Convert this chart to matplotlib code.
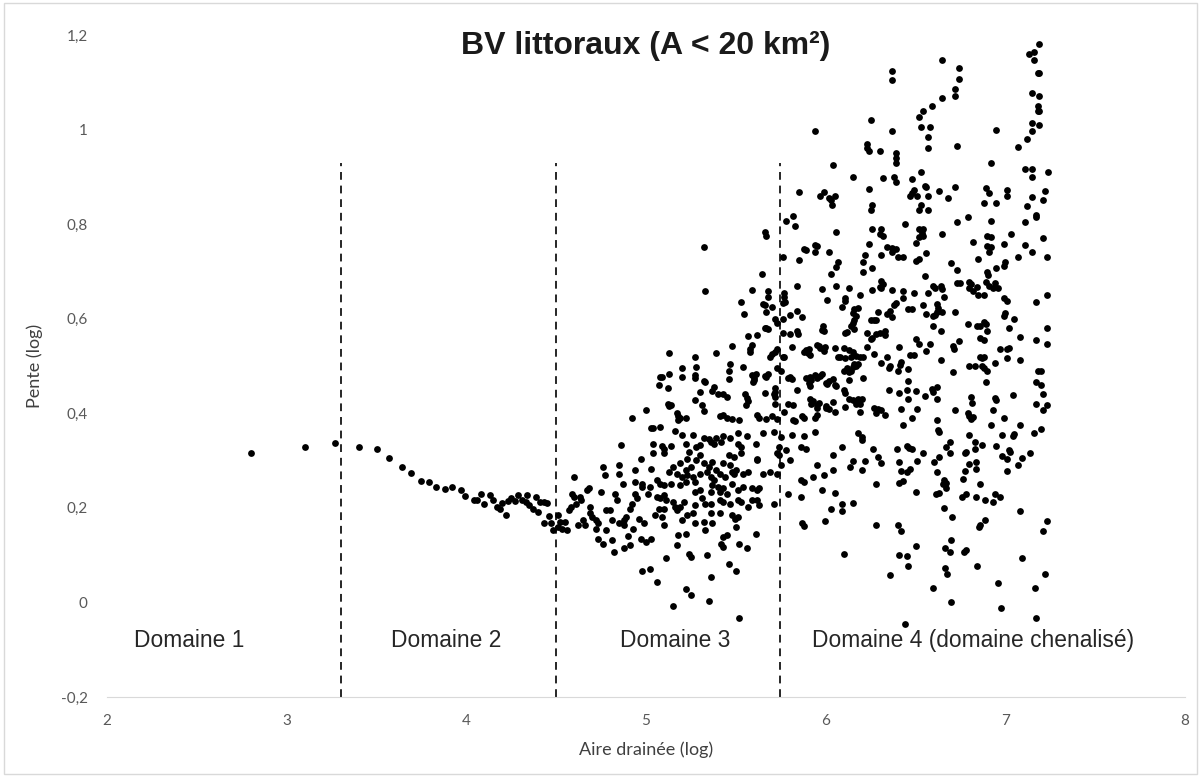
"""
BV littoraux : pente vs aire drainée (log-log), 4 domaines
"""

import matplotlib
matplotlib.use('Agg')
import matplotlib.pyplot as plt
from matplotlib.patches import Rectangle

# =========================================================================
# Data, (aire log, pente log)
# =========================================================================
pts_domaine1 = [(2.80, 0.315), (3.10, 0.328), (3.27, 0.337)]

pts_domaine2 = [
    (3.40, 0.328), (3.50, 0.324), (3.57, 0.305), (3.64, 0.286), (3.69, 0.273), (3.75, 0.256),
    (3.79, 0.254), (3.83, 0.243), (3.88, 0.24), (3.92, 0.243), (3.97, 0.237), (3.99, 0.224),
    (4.04, 0.216), (4.06, 0.217), (4.08, 0.23), (4.10, 0.208), (4.13, 0.227), (4.15, 0.216),
    (4.17, 0.202), (4.19, 0.197), (4.20, 0.21), (4.22, 0.184), (4.23, 0.214), (4.25, 0.22),
    (4.27, 0.214), (4.29, 0.227), (4.31, 0.216), (4.33, 0.213), (4.34, 0.227), (4.35, 0.205),
    (4.37, 0.198), (4.39, 0.223), (4.40, 0.191), (4.41, 0.213), (4.43, 0.213), (4.45, 0.211),
    (4.43, 0.167), (4.46, 0.182), (4.47, 0.167), (4.48, 0.153),
]

pts_domaine3_bas = [
    (4.51, 0.184), (4.51, 0.16), (4.52, 0.17), (4.53, 0.156), (4.55, 0.17), (4.56, 0.153),
    (4.57, 0.195), (4.58, 0.202), (4.59, 0.23), (4.60, 0.265), (4.60, 0.223), (4.61, 0.209),
    (4.62, 0.163), (4.63, 0.223), (4.64, 0.216), (4.65, 0.174), (4.66, 0.163), (4.67, 0.237),
    (4.68, 0.241), (4.69, 0.202), (4.69, 0.188), (4.70, 0.181), (4.72, 0.174), (4.72, 0.156),
    (4.73, 0.134), (4.73, 0.168), (4.75, 0.234), (4.76, 0.124), (4.76, 0.287), (4.77, 0.269),
    (4.78, 0.153), (4.78, 0.195), (4.80, 0.195), (4.81, 0.174), (4.81, 0.131), (4.82, 0.107),
    (4.83, 0.23), (4.84, 0.216), (4.85, 0.167), (4.85, 0.29), (4.85, 0.272), (4.86, 0.332),
    (4.87, 0.251), (4.88, 0.163), (4.88, 0.114), (4.88, 0.174), (4.89, 0.181), (4.90, 0.14),
    (4.91, 0.121), (4.91, 0.198), (4.92, 0.209), (4.93, 0.156), (4.94, 0.23), (4.94, 0.281),
    (4.94, 0.255), (4.95, 0.22), (4.96, 0.177), (4.97, 0.135), (4.97, 0.304), (4.98, 0.244),
    (4.98, 0.251), (4.99, 0.167), (5.00, 0.128), (5.01, 0.23), (5.02, 0.244), (5.03, 0.283),
    (5.03, 0.135), (5.04, 0.336), (5.04, 0.315), (5.05, 0.184), (5.06, 0.223), (5.06, 0.258),
    (5.07, 0.198), (4.98, 0.066), (5.02, 0.071), (5.06, 0.043),
    (5.07, 0.46), (5.08, 0.476), (5.00, 0.406), (4.92, 0.39), (5.03, 0.368), (5.04, 0.368),
]

pts_domaine3_milieu = [
    (5.09, 0.33), (5.10, 0.315), (5.10, 0.325), (5.14, 0.33), (5.22, 0.336), (5.24, 0.318),
    (5.28, 0.329), (5.30, 0.332), (5.36, 0.34), (5.38, 0.336), (5.42, 0.34), (5.51, 0.336),
    (5.53, 0.329), (5.61, 0.336), (5.23, 0.304), (5.19, 0.294), (5.15, 0.287), (5.13, 0.276),
    (5.17, 0.272), (5.22, 0.28), (5.25, 0.287), (5.28, 0.301), (5.30, 0.311), (5.32, 0.294),
    (5.35, 0.287), (5.37, 0.297), (5.39, 0.28), (5.43, 0.294), (5.46, 0.311), (5.49, 0.308),
    (5.53, 0.315), (5.47, 0.29), (5.49, 0.272), (5.50, 0.28), (5.54, 0.272), (5.57, 0.276),
    (5.62, 0.301), (5.62, 0.304), (5.65, 0.272), (5.69, 0.276), (5.73, 0.315), (5.74, 0.329),
    (5.74, 0.311), (5.75, 0.29), (5.73, 0.272), (5.20, 0.265), (5.22, 0.255), (5.23, 0.269),
    (5.26, 0.265), (5.27, 0.255), (5.30, 0.272), (5.34, 0.276), (5.36, 0.265), (5.38, 0.258),
    (5.41, 0.272), (5.44, 0.265), (5.48, 0.276), (5.10, 0.248), (5.08, 0.251), (5.14, 0.251),
    (5.19, 0.248), (5.27, 0.234), (5.30, 0.237), (5.31, 0.22), (5.36, 0.234), (5.37, 0.248),
    (5.40, 0.244), (5.41, 0.234), (5.43, 0.241), (5.45, 0.23), (5.48, 0.251), (5.51, 0.237),
    (5.54, 0.244), (5.59, 0.241), (5.62, 0.237), (5.63, 0.241), (5.08, 0.22), (5.10, 0.227),
    (5.11, 0.216), (5.15, 0.213), (5.16, 0.202), (5.17, 0.195), (5.21, 0.213), (5.27, 0.205),
    (5.33, 0.209), (5.36, 0.209), (5.41, 0.216), (5.43, 0.213), (5.47, 0.209), (5.51, 0.216),
    (5.53, 0.213), (5.57, 0.202), (5.59, 0.216), (5.62, 0.216), (5.63, 0.205), (5.71, 0.209),
    (5.10, 0.198), (5.19, 0.202), (5.23, 0.184), (5.26, 0.188), (5.36, 0.188), (5.41, 0.188),
    (5.48, 0.184), (5.495, 0.177), (5.51, 0.181), (5.09, 0.181), (5.10, 0.163), (5.20, 0.174),
    (5.27, 0.167), (5.32, 0.17), (5.37, 0.167), (5.33, 0.153), (5.50, 0.16), (5.18, 0.142),
    (5.22, 0.145), (5.43, 0.138), (5.45, 0.142), (5.42, 0.124), (5.43, 0.117), (5.17, 0.121),
    (5.24, 0.103), (5.25, 0.096), (5.34, 0.1), (5.61, 0.144), (5.52, 0.123), (5.56, 0.114),
    (5.11, 0.093), (5.22, 0.029), (5.15, -0.008), (5.25, 0.015), (5.35, 0.004), (5.36, 0.054),
    (5.52, -0.033), (5.50, 0.066), (5.46, 0.082),
]

pts_domaine3_haut = [
    (5.645, 0.694), (5.33, 0.658), (5.59, 0.66), (5.68, 0.658), (5.68, 0.645), (5.53, 0.635),
    (5.545, 0.61), (5.65, 0.632), (5.66, 0.628), (5.67, 0.614), (5.70, 0.624), (5.72, 0.60),
    (5.73, 0.59), (5.66, 0.58), (5.67, 0.58), (5.68, 0.578), (5.57, 0.563), (5.62, 0.565),
    (5.48, 0.542), (5.59, 0.544), (5.13, 0.527), (5.39, 0.527), (5.58, 0.53), (5.58, 0.535),
    (5.69, 0.52), (5.70, 0.525), (5.72, 0.53), (5.73, 0.535), (5.27, 0.52), (5.28, 0.498),
    (5.47, 0.505), (5.54, 0.498), (5.20, 0.495), (5.13, 0.482), (5.09, 0.476), (5.20, 0.476),
    (5.27, 0.48), (5.27, 0.475), (5.32, 0.468), (5.33, 0.466), (5.46, 0.489), (5.46, 0.472),
    (5.59, 0.48), (5.60, 0.475), (5.61, 0.482), (5.60, 0.47), (5.595, 0.466), (5.66, 0.478),
    (5.67, 0.476), (5.68, 0.482), (5.73, 0.495), (5.12, 0.453), (5.30, 0.444), (5.37, 0.447),
    (5.40, 0.44), (5.43, 0.441), (5.45, 0.434), (5.38, 0.455), (5.55, 0.44), (5.56, 0.433),
    (5.57, 0.426), (5.555, 0.417), (5.12, 0.42), (5.13, 0.415), (5.14, 0.418), (5.31, 0.417),
    (5.27, 0.427), (5.72, 0.453), (5.71, 0.44), (5.72, 0.435), (5.72, 0.445), (5.66, 0.442),
    (5.72, 0.419), (5.17, 0.40), (5.18, 0.395), (5.19, 0.39), (5.18, 0.385), (5.22, 0.39),
    (5.32, 0.404), (5.41, 0.394), (5.43, 0.397), (5.45, 0.39), (5.48, 0.387), (5.52, 0.385),
    (5.62, 0.396), (5.63, 0.39), (5.67, 0.388), (5.70, 0.395), (5.73, 0.387), (5.08, 0.37),
    (5.16, 0.362), (5.20, 0.353), (5.26, 0.355), (5.32, 0.348), (5.35, 0.346), (5.39, 0.348),
    (5.43, 0.352), (5.47, 0.348), (5.51, 0.358), (5.56, 0.351), (5.65, 0.358), (5.71, 0.36),
    (5.32, 0.751), (5.66, 0.783), (5.67, 0.775),
]

pts_domaine4_bas = [
    (5.76, 0.57), (5.75, 0.49), (5.76, 0.518), (5.77, 0.52), (5.80, 0.567), (5.84, 0.575),
    (5.845, 0.568), (5.80, 0.607), (5.84, 0.616), (5.87, 0.603), (5.76, 0.60), (5.77, 0.655),
    (5.77, 0.645), (5.775, 0.635), (5.765, 0.633), (5.84, 0.669), (5.76, 0.73), (5.85, 0.724),
    (5.89, 0.745), (5.94, 0.74), (6.02, 0.74), (6.07, 0.72), (6.06, 0.71), (6.03, 0.694),
    (5.98, 0.662), (6.01, 0.64), (6.06, 0.67), (6.11, 0.643), (6.11, 0.637), (6.09, 0.624),
    (5.98, 0.577), (5.99, 0.575), (5.985, 0.585), (6.11, 0.57), (6.12, 0.572), (5.81, 0.54),
    (5.88, 0.53), (5.89, 0.533), (5.90, 0.528), (5.91, 0.524), (5.905, 0.536), (5.95, 0.545),
    (5.96, 0.543), (5.97, 0.538), (5.99, 0.532), (5.995, 0.54), (6.05, 0.537), (6.10, 0.537),
    (6.07, 0.52), (6.08, 0.518), (6.11, 0.516), (5.79, 0.474), (5.80, 0.477), (5.81, 0.472),
    (5.89, 0.474), (5.91, 0.476), (5.92, 0.47), (5.905, 0.463), (5.91, 0.458), (5.94, 0.48),
    (5.95, 0.474), (5.97, 0.478), (5.98, 0.482), (5.84, 0.45), (6.00, 0.465), (6.01, 0.462),
    (6.02, 0.468), (6.04, 0.473), (6.05, 0.459), (6.06, 0.457), (6.10, 0.49), (6.12, 0.495),
    (6.13, 0.487), (6.14, 0.49), (6.10, 0.45), (6.11, 0.443), (5.79, 0.419), (5.82, 0.417),
    (5.91, 0.43), (5.93, 0.425), (5.92, 0.42), (5.95, 0.417), (5.95, 0.412), (5.96, 0.421),
    (6.00, 0.415), (6.00, 0.412), (6.02, 0.41), (6.04, 0.423), (6.05, 0.402), (6.11, 0.413),
    (5.77, 0.402), (5.82, 0.385), (5.83, 0.383), (5.87, 0.394), (5.88, 0.389), (5.94, 0.39),
    (5.95, 0.396), (5.75, 0.35), (5.81, 0.353), (5.88, 0.351), (5.94, 0.36),
    (5.95, 0.29), (6.04, 0.311), (6.09, 0.329), (6.04, 0.281), (5.93, 0.265), (5.99, 0.269),
    (5.86, 0.258), (5.88, 0.255), (5.98, 0.237), (6.05, 0.232), (5.79, 0.23), (5.86, 0.223),
    (6.03, 0.198), (6.09, 0.209), (6.09, 0.193), (5.87, 0.167), (5.88, 0.161), (5.995, 0.172),
    (6.10, 0.103), (5.78, 0.322), (5.80, 0.301), (5.86, 0.329), (5.89, 0.325),
]

pts_domaine4_haut = [
    (5.94, 0.997), (6.04, 0.925), (5.85, 0.868), (5.97, 0.86), (5.99, 0.868), (6.02, 0.855),
    (6.03, 0.85), (6.05, 0.86), (6.035, 0.84), (5.82, 0.817), (5.78, 0.806), (5.83, 0.795),
    (6.06, 0.783), (5.94, 0.755), (5.95, 0.753), (5.88, 0.747),
    (6.65, 1.147), (6.74, 1.13), (6.37, 1.124), (6.74, 1.107), (6.37, 1.105), (6.72, 1.085),
    (6.72, 1.07), (6.65, 1.067), (6.59, 1.05), (6.54, 1.04), (6.52, 1.027), (6.25, 1.02),
    (6.37, 0.997), (6.53, 1.005), (6.58, 1.005), (6.57, 0.984), (6.57, 0.96), (6.73, 0.965),
    (6.23, 0.97), (6.23, 0.96), (6.24, 0.955), (6.30, 0.955), (6.39, 0.95), (6.39, 0.94),
    (6.39, 0.93), (6.15, 0.90), (6.32, 0.897), (6.38, 0.90), (6.39, 0.89), (6.53, 0.91),
    (6.48, 0.895), (6.24, 0.874), (6.55, 0.88), (6.56, 0.878), (6.49, 0.872), (6.48, 0.865),
    (6.47, 0.86), (6.72, 0.878), (6.63, 0.87), (6.51, 0.86), (6.57, 0.86), (6.68, 0.855),
    (6.26, 0.84), (6.25, 0.83), (6.53, 0.84), (6.52, 0.83), (6.57, 0.83), (6.79, 0.815),
    (6.44, 0.80), (6.73, 0.805), (6.26, 0.79), (6.31, 0.79), (6.30, 0.78), (6.32, 0.775),
    (6.52, 0.79), (6.54, 0.79), (6.535, 0.782), (6.54, 0.775), (6.52, 0.772), (6.65, 0.78),
    (6.24, 0.757), (6.34, 0.752), (6.37, 0.75), (6.39, 0.748), (6.50, 0.76), (6.82, 0.762),
    (6.90, 0.753), (6.92, 0.752), (6.99, 0.757), (7.11, 0.755), (6.90, 0.775), (6.92, 0.772),
    (6.92, 0.806), (7.03, 0.78), (7.11, 0.804), (6.88, 0.845), (6.95, 0.845), (7.12, 0.838),
    (6.89, 0.876), (6.91, 0.866), (7.01, 0.872), (7.01, 0.86), (7.15, 0.857), (7.17, 0.82),
    (7.17, 0.815), (6.92, 0.93), (7.11, 0.917), (7.15, 0.917), (7.15, 0.90), (7.07, 0.963),
    (7.12, 0.98), (7.15, 0.997), (7.15, 1.013), (6.95, 1.0), (7.18, 1.04), (7.18, 1.05),
    (7.15, 1.077), (7.18, 1.12), (7.16, 1.147), (7.13, 1.16), (7.16, 1.165), (7.19, 1.18),
]

pts_domaine4_milieu = [
    (6.22, 0.735), (6.21, 0.72), (6.31, 0.735), (6.37, 0.74), (6.40, 0.73), (6.43, 0.73),
    (6.50, 0.722), (6.52, 0.726), (6.56, 0.738), (6.70, 0.717), (6.85, 0.726), (6.91, 0.74),
    (7.00, 0.72), (6.99, 0.712), (7.07, 0.73), (7.15, 0.74), (6.21, 0.698), (6.26, 0.707),
    (6.73, 0.703), (6.90, 0.698), (6.905, 0.692), (6.95, 0.707), (6.31, 0.68), (6.32, 0.673),
    (6.30, 0.668), (6.31, 0.665), (6.55, 0.69), (6.60, 0.67), (6.61, 0.665), (6.64, 0.67),
    (6.65, 0.662), (6.73, 0.675), (6.745, 0.676), (6.80, 0.678), (6.81, 0.673), (6.80, 0.664),
    (6.82, 0.658), (6.84, 0.668), (6.85, 0.65), (6.88, 0.65), (6.89, 0.678), (6.91, 0.67),
    (6.94, 0.675), (6.93, 0.665), (6.96, 0.664), (6.13, 0.665), (6.19, 0.65), (6.26, 0.66),
    (6.37, 0.66), (6.43, 0.658), (6.43, 0.643), (6.49, 0.654), (6.57, 0.654), (6.66, 0.645),
    (6.995, 0.643), (7.01, 0.638), (7.17, 0.635), (6.39, 0.633), (6.38, 0.628), (6.46, 0.62),
    (6.48, 0.621), (6.54, 0.628), (6.62, 0.63), (6.625, 0.623), (6.62, 0.614), (6.60, 0.605),
    (6.61, 0.607), (6.56, 0.61), (6.65, 0.614), (6.72, 0.614), (6.16, 0.62), (6.15, 0.612),
    (6.18, 0.622), (6.17, 0.605), (6.16, 0.597), (6.15, 0.59), (6.14, 0.585), (6.16, 0.578),
    (6.29, 0.614), (6.25, 0.597), (6.27, 0.597), (6.28, 0.598), (6.34, 0.61), (6.36, 0.617),
    (6.37, 0.603), (7.00, 0.611), (6.99, 0.605), (7.05, 0.60), (6.79, 0.588), (6.84, 0.585),
    (6.86, 0.585), (6.88, 0.593), (6.89, 0.588), (6.90, 0.573), (7.02, 0.58), (6.60, 0.584),
    (6.64, 0.573), (6.23, 0.57), (6.28, 0.568), (6.30, 0.569), (6.26, 0.56), (6.25, 0.556),
    (6.33, 0.573), (6.33, 0.565), (6.50, 0.557), (6.52, 0.546), (6.58, 0.546), (6.74, 0.552),
    (6.71, 0.542), (6.715, 0.535), (6.86, 0.56), (6.88, 0.555), (7.08, 0.561), (7.17, 0.555),
    (6.13, 0.533), (6.15, 0.53), (6.17, 0.522), (6.14, 0.52), (6.19, 0.52), (6.21, 0.52),
    (6.18, 0.505), (6.16, 0.505), (6.15, 0.497), (6.17, 0.499), (6.23, 0.54), (6.27, 0.525),
    (6.34, 0.52), (6.41, 0.54), (6.47, 0.523), (6.49, 0.523), (6.42, 0.508), (6.415, 0.503),
    (6.56, 0.531), (6.36, 0.50), (6.355, 0.495), (6.31, 0.506), (6.40, 0.49), (6.46, 0.493),
    (6.64, 0.512), (6.71, 0.487), (6.80, 0.50), (6.83, 0.50), (6.86, 0.52), (6.87, 0.517),
    (6.88, 0.518), (6.87, 0.499), (6.88, 0.496), (6.90, 0.49), (6.94, 0.506), (6.97, 0.535),
    (7.01, 0.535), (7.02, 0.537), (7.01, 0.516), (7.08, 0.512), (7.18, 0.49), (6.21, 0.474),
    (6.13, 0.47), (6.46, 0.468), (6.89, 0.466), (7.17, 0.466), (6.35, 0.45), (6.41, 0.442),
    (6.45, 0.45), (6.50, 0.447), (6.59, 0.452), (6.60, 0.444), (6.62, 0.455), (6.55, 0.436),
    (6.46, 0.43), (6.62, 0.43), (6.13, 0.43), (6.15, 0.428), (6.18, 0.43), (6.20, 0.43),
    (6.17, 0.42), (6.19, 0.419), (6.81, 0.435), (6.815, 0.422), (6.94, 0.433), (6.95, 0.428),
    (7.04, 0.438), (7.17, 0.42), (6.27, 0.412), (6.29, 0.41), (6.31, 0.406), (6.33, 0.397),
    (6.28, 0.4), (6.19, 0.402), (6.42, 0.41), (6.51, 0.408), (6.72, 0.406), (6.79, 0.4),
    (6.80, 0.395), (6.81, 0.388), (6.82, 0.393), (6.93, 0.406), (6.99, 0.39), (7.08, 0.375),
    (6.43, 0.375), (6.48, 0.39), (6.62, 0.385), (6.625, 0.365), (6.63, 0.36), (6.18, 0.358),
    (6.20, 0.35), (6.80, 0.353), (6.98, 0.355), (7.04, 0.352), (7.05, 0.357), (7.16, 0.358),
    (6.92, 0.375),
]

pts_domaine4_bas2 = [
    (6.20, 0.343), (6.265, 0.325), (6.15, 0.30), (6.135, 0.287), (6.22, 0.30), (6.20, 0.281),
    (6.31, 0.294), (6.29, 0.308), (6.395, 0.325), (6.45, 0.33), (6.465, 0.327), (6.48, 0.325),
    (6.54, 0.316), (6.41, 0.296), (6.42, 0.278), (6.45, 0.275), (6.47, 0.282), (6.51, 0.30),
    (6.41, 0.253), (6.43, 0.257), (6.28, 0.251), (6.50, 0.234), (6.605, 0.297), (6.63, 0.308),
    (6.62, 0.275), (6.67, 0.329), (6.69, 0.34), (6.69, 0.315), (6.66, 0.258), (6.67, 0.253),
    (6.655, 0.251), (6.67, 0.241), (6.615, 0.229), (6.63, 0.232), (6.775, 0.315), (6.78, 0.318),
    (6.765, 0.262), (6.775, 0.278), (6.80, 0.292), (6.835, 0.297), (6.835, 0.283), (6.76, 0.223),
    (6.78, 0.229), (6.83, 0.34), (6.83, 0.325), (6.87, 0.332), (6.86, 0.251), (6.835, 0.222),
    (6.885, 0.216), (6.93, 0.213), (6.94, 0.23), (6.97, 0.222), (6.95, 0.33), (6.98, 0.309),
    (7.01, 0.304), (7.025, 0.318), (7.02, 0.323), (7.01, 0.277), (7.07, 0.29), (7.09, 0.306),
    (7.135, 0.316), (6.15, 0.211), (6.28, 0.164), (6.40, 0.163), (6.42, 0.15), (6.50, 0.119),
    (6.41, 0.10), (6.45, 0.098), (6.46, 0.078), (6.36, 0.057), (6.44, -0.045), (6.595, 0.031),
    (6.70, 0.001), (6.66, 0.199), (6.705, 0.18), (6.70, 0.132), (6.665, 0.115), (6.69, 0.106),
    (6.665, 0.073), (6.675, 0.059), (6.77, 0.107), (6.78, 0.11), (6.84, 0.078), (6.86, 0.163),
    (6.855, 0.16), (6.885, 0.174), (6.96, 0.041), (6.975, -0.012), (7.08, 0.193), (7.09, 0.093),
    (7.165, 0.031), (7.17, -0.034),
]

pts_bord_droit = [
    (7.23, 0.173), (7.21, 0.15), (7.22, 0.06), (7.23, 0.73), (7.23, 0.65), (7.23, 0.58),
    (7.23, 0.546), (7.20, 0.49), (7.20, 0.46), (7.21, 0.44), (7.23, 0.417), (7.21, 0.406),
    (7.20, 0.366), (7.19, 1.12), (7.19, 1.07), (7.19, 1.04), (7.19, 1.01), (7.24, 0.91),
    (7.22, 0.87), (7.21, 0.85), (7.21, 0.77),
]

limites_domaines = [3.30, 4.50, 5.745]
domaine_labels = ['Domaine 1', 'Domaine 2', 'Domaine 3', 'Domaine 4 (domaine chenalisé)']
domaine_label_x = [2.46, 3.89, 5.16, 6.82]


def main():
    fig = plt.figure(figsize=(12.01, 7.77), dpi=100)
    ax = fig.add_axes([0.0891, 0.103, 0.8976, 0.852])

    all_pts = (pts_domaine1 + pts_domaine2 + pts_domaine3_bas + pts_domaine3_milieu
               + pts_domaine3_haut + pts_domaine4_bas + pts_domaine4_haut
               + pts_domaine4_milieu + pts_domaine4_bas2 + pts_bord_droit)
    xs = [p[0] for p in all_pts]
    ys = [p[1] for p in all_pts]
    ax.scatter(xs, ys, s=24, color='black', linewidths=0, zorder=3)

    # domain limits
    for xl in limites_domaines:
        ax.plot([xl, xl], [-0.2, 0.93], color='#262626', linestyle=(0, (4, 3)), linewidth=1.4, zorder=2)

    for lab, xl in zip(domaine_labels, domaine_label_x):
        ax.text(xl, -0.08, lab, ha='center', va='center', fontsize=16.4,
                family='Liberation Sans', color='#262626')

    ax.text(5.0, 1.177, 'BV littoraux (A < 20 km²)', ha='center', va='center', fontsize=23,
            fontweight='bold', family='Liberation Sans', color='#1a1a1a')

    ax.set_xlim(2, 8)
    ax.set_ylim(-0.2, 1.2)
    ax.set_xticks([2, 3, 4, 5, 6, 7, 8])
    ax.set_yticks([-0.2, 0, 0.2, 0.4, 0.6, 0.8, 1.0, 1.2])
    ax.set_yticklabels(['-0,2', '0', '0,2', '0,4', '0,6', '0,8', '1', '1,2'])
    for s in ['top', 'right', 'left']:
        ax.spines[s].set_visible(False)
    ax.spines['bottom'].set_color('#d9d9d9')
    ax.tick_params(length=0, labelsize=11, labelcolor='#595959')
    ax.tick_params(axis='y', pad=14)
    ax.tick_params(axis='x', pad=12)
    for lbl in ax.get_xticklabels() + ax.get_yticklabels():
        lbl.set_family('Lato')

    ax.set_xlabel('Aire drainée (log)', fontsize=13, color='#404040', family='Lato', labelpad=10)
    ax.set_ylabel('Pente (log)', fontsize=13, color='#404040', family='Lato', labelpad=13)

    # outer chart border
    fig.patches.append(Rectangle((0.003, 0.004), 0.994, 0.992, transform=fig.transFigure,
                                 fill=False, edgecolor='#d9d9d9', linewidth=1))

    fig.savefig('out.png', dpi=100, facecolor='white')


if __name__ == "__main__":
    main()
